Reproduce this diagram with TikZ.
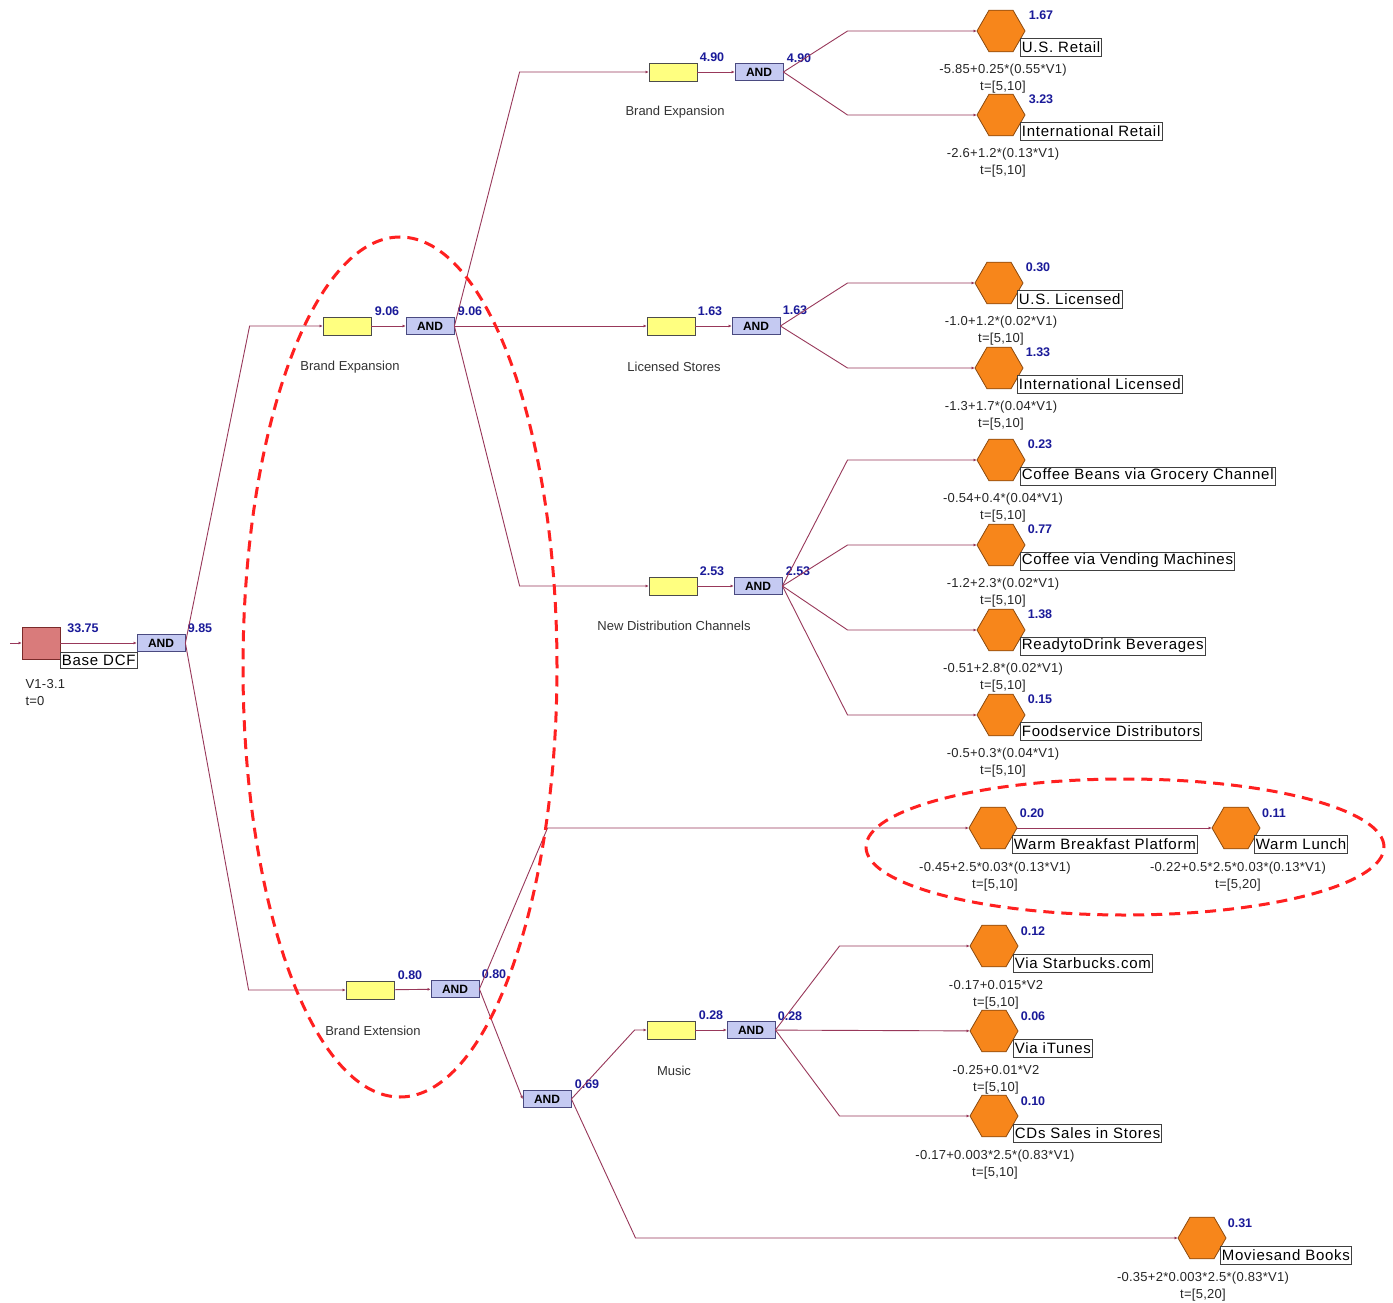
\documentclass[tikz,border=0pt]{standalone}
\usepackage{fontspec}
\setmainfont{Liberation Sans}
\newfontfamily\boxfont[LetterSpace=5]{Liberation Sans}
\newfontfamily\formfont[LetterSpace=2]{Liberation Sans}
\usetikzlibrary{positioning, arrows.meta, calc, shapes.geometric}
\definecolor{colour_link}{HTML}{98385A}
\definecolor{colour_dec}{HTML}{D97B7B}
\definecolor{colour_decline}{HTML}{7A2A2A}
\definecolor{colour_phase}{HTML}{FFFF80}
\definecolor{colour_and}{HTML}{C5CAF2}
\definecolor{colour_andline}{HTML}{4A4A80}
\definecolor{colour_opt}{HTML}{F7861B}
\definecolor{colour_optline}{HTML}{8B4A10}
\definecolor{colour_val}{HTML}{1A1A99}
\definecolor{colour_oval}{HTML}{FF2020}

\begin{document}
\begin{tikzpicture}[
    x=1pt, y=-1pt,
    link/.style={draw=colour_link, line width=0.9pt, -{Latex[length=3pt, width=3pt]}},
    decision/.style={rectangle, draw=colour_decline, fill=colour_dec, line width=0.8pt,
                     minimum width=38pt, minimum height=32pt, inner sep=0pt},
    phase/.style={rectangle, draw=black!70, fill=colour_phase, line width=0.8pt,
                  minimum width=48pt, minimum height=18pt, inner sep=0pt},
    andgate/.style={rectangle, draw=colour_andline, fill=colour_and, line width=0.8pt,
                    minimum width=48pt, minimum height=17pt, inner sep=0pt,
                    font=\bfseries\fontsize{12}{12}\selectfont},
    option/.style={regular polygon, regular polygon sides=6, minimum size=48pt,
                   inner sep=0pt, fill=colour_opt, draw=colour_optline, line width=0.8pt},
    value/.style={font=\bfseries\fontsize{12.5}{12.5}\selectfont, text=colour_val},
    namebox/.style={draw=black!75, fill=white, line width=0.7pt, inner sep=1.5pt,
                    minimum height=18pt, anchor=west, font=\boxfont\fontsize{15}{15}\selectfont},
    formula/.style={font=\formfont\fontsize{13}{17}\selectfont, text=black!85, align=center},
    stage/.style={font=\fontsize{13}{13}\selectfont, text=black!80},
    oval/.style={draw=colour_oval, line width=3pt, dash pattern=on 11pt off 7pt}
]
\useasboundingbox[fill=white] (0,0) rectangle (1393,1303);

% Root decision
\node[decision] (base) at (41,643) {};
\coordinate (stub) at (10,643);
\node[namebox, minimum height=16pt] (baseL) at ($(base)+(19,17)$) {Base DCF};
\node[value] at ($(base)+(42,-15)$) {33.75};
\node[formula, anchor=north west, align=left] at (22,676) {V1-3.1\\t=0};
\node[andgate] (and0) at (161,643) {AND};
\node[value] at ($(and0)+(39,-15)$) {9.85};

% Level one phases
\node[phase] (bexp) at (347,326) {};
\node[stage] at ($(bexp)+(3,41)$) {Brand Expansion};
\node[value] at ($(bexp)+(40,-15)$) {9.06};
\node[andgate] (and1) at (430,326) {AND};
\node[value] at ($(and1)+(40,-15)$) {9.06};

\node[phase] (bext) at (370,990) {};
\node[stage] at ($(bext)+(3,41)$) {Brand Extension};
\node[value] at ($(bext)+(40,-15)$) {0.80};
\node[andgate] (and2) at (455,989) {AND};
\node[value] at ($(and2)+(39,-15)$) {0.80};

% Level two phases
\node[phase] (rexp) at (673,72) {};
\node[stage] at ($(rexp)+(2,40)$) {Brand Expansion};
\node[value] at ($(rexp)+(39,-15)$) {4.90};
\node[andgate] (and3) at (759,72) {AND};
\node[value] at ($(and3)+(40,-14)$) {4.90};

\node[phase] (lic) at (671,326) {};
\node[stage] at ($(lic)+(3,41)$) {Licensed Stores};
\node[value] at ($(lic)+(39,-15)$) {1.63};
\node[andgate] (and4) at (756,326) {AND};
\node[value] at ($(and4)+(39,-16)$) {1.63};

\node[phase] (ndc) at (673,586) {};
\node[stage] at ($(ndc)+(1,40)$) {New Distribution Channels};
\node[value] at ($(ndc)+(39,-15)$) {2.53};
\node[andgate] (and5) at (758,586) {AND};
\node[value] at ($(and5)+(40,-15)$) {2.53};

\node[andgate] (and6) at (547,1099) {AND};
\node[value] at ($(and6)+(40,-15)$) {0.69};

\node[phase] (mus) at (671,1030) {};
\node[stage] at ($(mus)+(3,41)$) {Music};
\node[value] at ($(mus)+(40,-15)$) {0.28};
\node[andgate] (and7) at (751,1030) {AND};
\node[value] at ($(and7)+(39,-14)$) {0.28};

% Options
\node[option] (usr) at (1001,31) {};
\node[value] at ($(usr)+(40,-16)$) {1.67};
\node[namebox] at ($(usr)+(19,16)$) {U.S. Retail};
\node[formula] at ($(usr)+(2,48)$) {-5.85+0.25*(0.55*V1)\\t=[5,10]};

\node[option] (intr) at (1001,115) {};
\node[value] at ($(intr)+(40,-16)$) {3.23};
\node[namebox] at ($(intr)+(19,16)$) {International Retail};
\node[formula] at ($(intr)+(2,48)$) {-2.6+1.2*(0.13*V1)\\t=[5,10]};

\node[option] (usl) at (999,283) {};
\node[value] at ($(usl)+(39,-16)$) {0.30};
\node[namebox] at ($(usl)+(18,16)$) {U.S. Licensed};
\node[formula] at ($(usl)+(2,48)$) {-1.0+1.2*(0.02*V1)\\t=[5,10]};

\node[option] (intl) at (999,368) {};
\node[value] at ($(intl)+(39,-16)$) {1.33};
\node[namebox] at ($(intl)+(18,16)$) {International Licensed};
\node[formula] at ($(intl)+(2,48)$) {-1.3+1.7*(0.04*V1)\\t=[5,10]};

\node[option] (cbg) at (1001,460) {};
\node[value] at ($(cbg)+(39,-16)$) {0.23};
\node[namebox] at ($(cbg)+(19,16)$) {Coffee Beans via Grocery Channel};
\node[formula] at ($(cbg)+(2,48)$) {-0.54+0.4*(0.04*V1)\\t=[5,10]};

\node[option] (cvm) at (1001,545) {};
\node[value] at ($(cvm)+(39,-16)$) {0.77};
\node[namebox] at ($(cvm)+(19,16)$) {Coffee via Vending Machines};
\node[formula] at ($(cvm)+(2,48)$) {-1.2+2.3*(0.02*V1)\\t=[5,10]};

\node[option] (rtd) at (1001,630) {};
\node[value] at ($(rtd)+(39,-16)$) {1.38};
\node[namebox] at ($(rtd)+(19,16)$) {ReadytoDrink Beverages};
\node[formula] at ($(rtd)+(2,48)$) {-0.51+2.8*(0.02*V1)\\t=[5,10]};

\node[option] (fsd) at (1001,715) {};
\node[value] at ($(fsd)+(39,-16)$) {0.15};
\node[namebox] at ($(fsd)+(19,16)$) {Foodservice Distributors};
\node[formula] at ($(fsd)+(2,48)$) {-0.5+0.3*(0.04*V1)\\t=[5,10]};

\node[option] (wbp) at (993,828) {};
\node[value] at ($(wbp)+(39,-15)$) {0.20};
\node[namebox] at ($(wbp)+(19,16)$) {Warm Breakfast Platform};
\node[formula] at ($(wbp)+(2,49)$) {-0.45+2.5*0.03*(0.13*V1)\\t=[5,10]};

\node[option] (wlu) at (1236,828) {};
\node[value] at ($(wlu)+(38,-15)$) {0.11};
\node[namebox] at ($(wlu)+(18,16)$) {Warm Lunch};
\node[formula] at ($(wlu)+(2,49)$) {-0.22+0.5*2.5*0.03*(0.13*V1)\\t=[5,20]};

\node[option] (vsb) at (994,946) {};
\node[value] at ($(vsb)+(39,-15)$) {0.12};
\node[namebox] at ($(vsb)+(19,17)$) {Via Starbucks.com};
\node[formula] at ($(vsb)+(2,49)$) {-0.17+0.015*V2\\t=[5,10]};

\node[option] (vit) at (994,1031) {};
\node[value] at ($(vit)+(39,-15)$) {0.06};
\node[namebox] at ($(vit)+(19,17)$) {Via iTunes};
\node[formula] at ($(vit)+(2,49)$) {-0.25+0.01*V2\\t=[5,10]};

\node[option] (cds) at (994,1116) {};
\node[value] at ($(cds)+(39,-15)$) {0.10};
\node[namebox] at ($(cds)+(19,17)$) {CDs Sales in Stores};
\node[formula] at ($(cds)+(1,49)$) {-0.17+0.003*2.5*(0.83*V1)\\t=[5,10]};

\node[option] (mab) at (1202,1238) {};
\node[value] at ($(mab)+(38,-15)$) {0.31};
\node[namebox] at ($(mab)+(18,17)$) {Moviesand Books};
\node[formula] at ($(mab)+(1,49)$) {-0.35+2*0.003*2.5*(0.83*V1)\\t=[5,20]};

% Connectors
\draw[link] (stub) -- (base.west);
\draw[link] (base) -- (and0);
\draw[link] (and0.east) -- ([xshift=-73pt]bexp.west) -- (bexp.west);
\draw[link] (and0.east) -- ([xshift=-97pt]bext.west) -- (bext.west);
\draw[link] (bexp) -- (and1);
\draw[link] (bext) -- (and2);

\draw[link] (and1.east) -- ([xshift=-129pt]rexp.west) -- (rexp.west);
\draw[link] (and1) -- (lic);
\draw[link] (and1.east) -- ([xshift=-129pt]ndc.west) -- (ndc.west);
\draw[link] (rexp) -- (and3);
\draw[link] (lic) -- (and4);
\draw[link] (ndc) -- (and5);

\draw[link] (and3.east) -- ([xshift=-129pt]usr.west) -- (usr.west);
\draw[link] (and3.east) -- ([xshift=-129pt]intr.west) -- (intr.west);
\draw[link] (and4.east) -- ([xshift=-127pt]usl.west) -- (usl.west);
\draw[link] (and4.east) -- ([xshift=-127pt]intl.west) -- (intl.west);
\draw[link] (and5.east) -- ([xshift=-129pt]cbg.west) -- (cbg.west);
\draw[link] (and5.east) -- ([xshift=-129pt]cvm.west) -- (cvm.west);
\draw[link] (and5.east) -- ([xshift=-129pt]rtd.west) -- (rtd.west);
\draw[link] (and5.east) -- ([xshift=-129pt]fsd.west) -- (fsd.west);

\draw[link] (and2.east) -- ([xshift=-421pt]wbp.west) -- (wbp.west);
\draw[link] (wbp) -- (wlu);
\draw[link] (and2.east) -- (and6.west);
\draw[link] (and6.east) -- ([xshift=-12pt]mus.west) -- (mus.west);
\draw[link] (and6.east) -- ([xshift=-542pt]mab.west) -- (mab.west);
\draw[link] (mus) -- (and7);
\draw[link] (and7.east) -- ([xshift=-130pt]vsb.west) -- (vsb.west);
\draw[link] (and7) -- (vit);
\draw[link] (and7.east) -- ([xshift=-130pt]cds.west) -- (cds.west);

% Highlight ovals
\draw[oval] (400,667) ellipse [x radius=157pt, y radius=430pt];
\draw[oval] (1125,847) ellipse [x radius=259pt, y radius=68pt];

\end{tikzpicture}
\end{document}
